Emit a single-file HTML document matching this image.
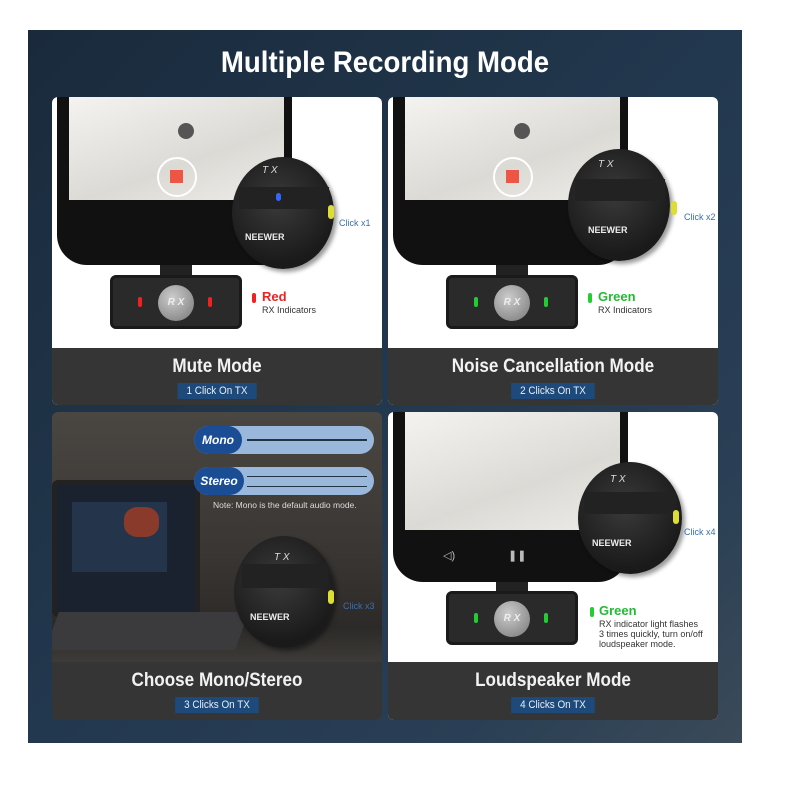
<!DOCTYPE html>
<html><head><meta charset="utf-8"><style>
*{margin:0;padding:0;box-sizing:border-box}
body{width:800px;height:800px;background:#fff;position:relative;overflow:hidden;font-family:"Liberation Sans",sans-serif}
.bg{position:absolute;left:28px;top:30px;width:714px;height:713px;background:linear-gradient(135deg,#1a2a3c 0%,#22384e 50%,#2a3f55 80%,#3a4a58 100%)}
h1{position:absolute;left:28px;width:714px;top:46px;text-align:center;color:#fff;font-size:30px;font-weight:bold;transform:scaleX(0.92)}
.card{position:absolute;width:330px;height:308px;border-radius:6px;overflow:hidden;background:#fff}
.strip{position:absolute;left:0;top:251px;width:330px;height:57px;background:#353535}
.strip .t{position:absolute;top:8px;width:100%;text-align:center;color:#f2f2f2;font-size:19px;font-weight:bold;transform:scaleX(0.9)}
.strip .b{position:absolute;top:35px;left:50%;transform:translateX(-50%) scaleX(0.9);background:#1d4a7a;color:#e8eef5;font-size:11px;padding:2px 10px;white-space:nowrap}
.a{position:absolute}
.phone{background:#111;border-radius:0 0 30px 30px}
.screen{background:linear-gradient(160deg,#f4f3f0,#dcdad5 60%,#eeece8)}
.tx{border-radius:50%;background:radial-gradient(circle at 45% 40%,#3a3a3a,#1a1a1a 70%);box-shadow:3px 3px 4px rgba(0,0,0,.4)}
.rx{background:#2a2a2a;border-radius:6px;border:3px solid #1a1a1a}
.btn{border-radius:50%;background:radial-gradient(circle at 40% 35%,#ccc,#777);color:#eee;font-size:10px;font-style:italic;text-align:center;font-weight:bold}
.small{font-size:9px;color:#333;line-height:10px}
</style></head><body>
<div class="bg"></div>
<h1>Multiple Recording Mode</h1>

<div class="card" style="left:52px;top:97px">
 <div class="a phone" style="left:5px;top:0;width:235px;height:168px"></div>
 <div class="a screen" style="left:17px;top:0;width:215px;height:103px"></div>
 <div class="a" style="left:105px;top:60px;width:40px;height:40px;border:2px solid #fff;border-radius:50%"></div>
 <div class="a" style="left:118px;top:73px;width:13px;height:13px;background:#e54"></div>
 <div class="a" style="left:126px;top:26px;width:16px;height:16px;border-radius:50%;background:#555"></div>
 <div class="a" style="left:108px;top:168px;width:32px;height:12px;background:#222"></div>
 <div class="a rx" style="left:58px;top:178px;width:132px;height:54px"></div>
 <div class="a btn" style="left:106px;top:188px;width:36px;height:36px;line-height:36px">R X</div>
 <div class="a" style="left:86px;top:200px;width:4px;height:10px;background:#e22;border-radius:2px"></div>
 <div class="a" style="left:156px;top:200px;width:4px;height:10px;background:#e22;border-radius:2px"></div>
 <div class="a tx" style="left:180px;top:60px;width:102px;height:112px"></div>
 <div class="a" style="left:187px;top:90px;width:90px;height:22px;background:#222"></div>
 <div class="a" style="left:224px;top:96px;width:5px;height:8px;background:#36f;border-radius:3px"></div>
 <div class="a" style="left:210px;top:68px;color:#ddd;font-size:10px;font-style:italic">T X</div>
 <div class="a" style="left:193px;top:135px;color:#eee;font-size:9px;font-weight:bold">NEEWER</div>
 <div class="a" style="left:276px;top:108px;width:6px;height:14px;background:#dd3;border-radius:3px"></div>
 <div class="a" style="left:287px;top:121px;color:#3a6fb0;font-size:9px">Click x1</div>
 <div class="a" style="left:200px;top:196px;width:4px;height:10px;background:#e22;border-radius:2px"></div>
 <div class="a" style="left:210px;top:192px;color:#e22;font-size:13px;font-weight:bold">Red</div>
 <div class="a small" style="left:210px;top:208px">RX Indicators</div>
 <div class="strip"><div class="t">Mute Mode</div><div class="b">1 Click On TX</div></div>
</div>

<div class="card" style="left:388px;top:97px">
 <div class="a phone" style="left:5px;top:0;width:235px;height:168px"></div>
 <div class="a screen" style="left:17px;top:0;width:215px;height:103px"></div>
 <div class="a" style="left:105px;top:60px;width:40px;height:40px;border:2px solid #fff;border-radius:50%"></div>
 <div class="a" style="left:118px;top:73px;width:13px;height:13px;background:#e54"></div>
 <div class="a" style="left:126px;top:26px;width:16px;height:16px;border-radius:50%;background:#555"></div>
 <div class="a" style="left:108px;top:168px;width:32px;height:12px;background:#222"></div>
 <div class="a rx" style="left:58px;top:178px;width:132px;height:54px"></div>
 <div class="a btn" style="left:106px;top:188px;width:36px;height:36px;line-height:36px">R X</div>
 <div class="a" style="left:86px;top:200px;width:4px;height:10px;background:#2c3;border-radius:2px"></div>
 <div class="a" style="left:156px;top:200px;width:4px;height:10px;background:#2c3;border-radius:2px"></div>
 <div class="a tx" style="left:180px;top:52px;width:102px;height:112px"></div>
 <div class="a" style="left:187px;top:82px;width:90px;height:22px;background:#222"></div>
 <div class="a" style="left:210px;top:62px;color:#ddd;font-size:10px;font-style:italic">T X</div>
 <div class="a" style="left:200px;top:128px;color:#eee;font-size:9px;font-weight:bold">NEEWER</div>
 <div class="a" style="left:283px;top:104px;width:6px;height:14px;background:#dd3;border-radius:3px"></div>
 <div class="a" style="left:296px;top:115px;color:#3a6fb0;font-size:9px">Click x2</div>
 <div class="a" style="left:200px;top:196px;width:4px;height:10px;background:#2c3;border-radius:2px"></div>
 <div class="a" style="left:210px;top:192px;color:#2b3;font-size:13px;font-weight:bold">Green</div>
 <div class="a small" style="left:210px;top:208px">RX Indicators</div>
 <div class="strip"><div class="t">Noise Cancellation Mode</div><div class="b">2 Clicks On TX</div></div>
</div>

<div class="card" style="left:52px;top:412px;background:linear-gradient(180deg,#4a4642 0%,#3a3633 45%,#2c2a28 70%,#5a5650 100%)">
 <div class="a" style="left:0;top:68px;width:148px;height:137px;background:#1a2230;border:5px solid #222;border-radius:6px"></div>
 <div class="a" style="left:20px;top:90px;width:95px;height:70px;background:#24344a"></div>
 <div class="a" style="left:72px;top:95px;width:35px;height:30px;background:#8a3a2a;border-radius:40%"></div>
 <div class="a" style="left:0;top:200px;width:190px;height:38px;background:#3b3b3d;transform:skewX(-20deg);transform-origin:left"></div>
 <div class="a" style="left:142px;top:14px;width:180px;height:28px;border-radius:14px;background:#9ab8dc"></div>
 <div class="a" style="left:142px;top:14px;width:48px;height:28px;border-radius:14px;background:#1a4d94;color:#fff;font-size:12px;font-weight:bold;font-style:italic;line-height:28px;text-align:center">Mono</div>
 <div class="a" style="left:142px;top:55px;width:180px;height:28px;border-radius:14px;background:#9ab8dc"></div>
 <div class="a" style="left:142px;top:55px;width:50px;height:28px;border-radius:14px;background:#1a4d94;color:#fff;font-size:12px;font-weight:bold;font-style:italic;line-height:28px;text-align:center">Stereo</div>
 <div class="a" style="left:195px;top:27px;width:120px;height:2px;background:#234"></div>
 <div class="a" style="left:195px;top:64px;width:120px;height:1px;background:#234"></div>
 <div class="a" style="left:195px;top:74px;width:120px;height:1px;background:#234"></div>
 <div class="a" style="left:161px;top:88px;color:#ddd;font-size:8.5px">Note: Mono is the default audio mode.</div>
 <div class="a tx" style="left:182px;top:124px;width:100px;height:112px"></div>
 <div class="a" style="left:190px;top:152px;width:86px;height:24px;background:#222"></div>
 <div class="a" style="left:222px;top:140px;color:#ddd;font-size:10px;font-style:italic">T X</div>
 <div class="a" style="left:198px;top:200px;color:#eee;font-size:9px;font-weight:bold">NEEWER</div>
 <div class="a" style="left:276px;top:178px;width:6px;height:14px;background:#dd3;border-radius:3px"></div>
 <div class="a" style="left:291px;top:189px;color:#3a6fb0;font-size:9px">Click x3</div>
 <div class="strip" style="top:250px;height:58px"><div class="t">Choose Mono/Stereo</div><div class="b">3 Clicks On TX</div></div>
</div>

<div class="card" style="left:388px;top:412px">
 <div class="a phone" style="left:5px;top:0;width:235px;height:170px"></div>
 <div class="a screen" style="left:17px;top:0;width:215px;height:118px"></div>
 <div class="a" style="left:55px;top:137px;color:#bbb;font-size:11px">◁)</div>
 <div class="a" style="left:120px;top:137px;color:#bbb;font-size:11px">❚❚</div>
 <div class="a" style="left:108px;top:170px;width:32px;height:12px;background:#222"></div>
 <div class="a rx" style="left:58px;top:179px;width:132px;height:54px"></div>
 <div class="a btn" style="left:106px;top:189px;width:36px;height:36px;line-height:36px">R X</div>
 <div class="a" style="left:86px;top:201px;width:4px;height:10px;background:#2c3;border-radius:2px"></div>
 <div class="a" style="left:156px;top:201px;width:4px;height:10px;background:#2c3;border-radius:2px"></div>
 <div class="a tx" style="left:190px;top:50px;width:104px;height:112px"></div>
 <div class="a" style="left:196px;top:80px;width:92px;height:22px;background:#222"></div>
 <div class="a" style="left:222px;top:62px;color:#ddd;font-size:10px;font-style:italic">T X</div>
 <div class="a" style="left:204px;top:126px;color:#eee;font-size:9px;font-weight:bold">NEEWER</div>
 <div class="a" style="left:285px;top:98px;width:6px;height:14px;background:#dd3;border-radius:3px"></div>
 <div class="a" style="left:296px;top:115px;color:#3a6fb0;font-size:9px">Click x4</div>
 <div class="a" style="left:202px;top:195px;width:4px;height:10px;background:#2c3;border-radius:2px"></div>
 <div class="a" style="left:211px;top:191px;color:#2b3;font-size:13px;font-weight:bold">Green</div>
 <div class="a small" style="left:211px;top:207px">RX indicator light flashes<br>3 times quickly, turn on/off<br>loudspeaker mode.</div>
 <div class="strip" style="top:250px;height:58px"><div class="t">Loudspeaker Mode</div><div class="b">4 Clicks On TX</div></div>
</div>
</body></html>
